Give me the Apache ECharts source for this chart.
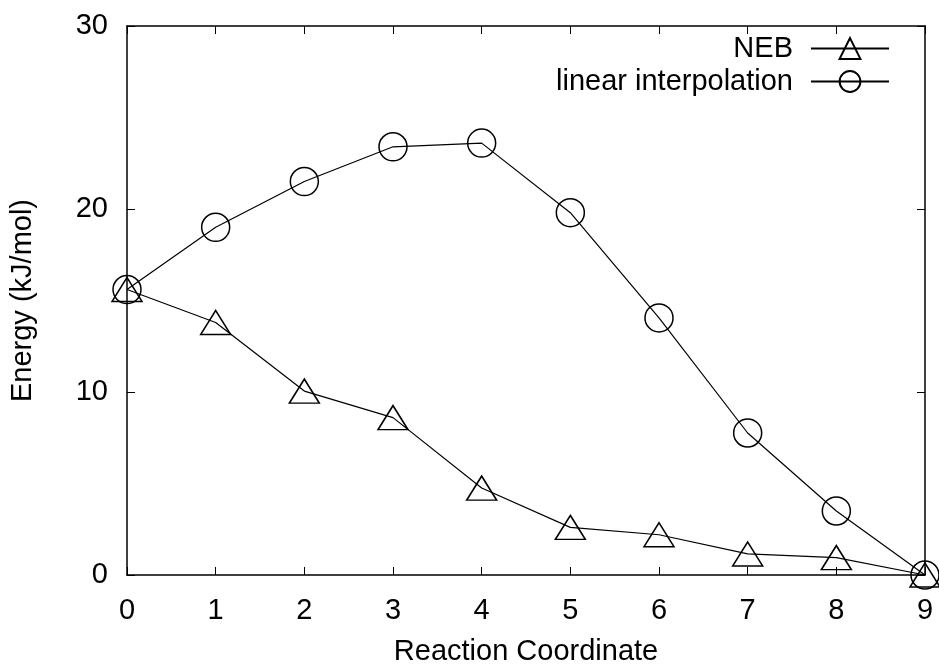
<!DOCTYPE html>
<html>
<head>
<meta charset="utf-8">
<script src="https://cdn.jsdelivr.net/npm/echarts@6/dist/echarts.min.js"></script>
<style>
  html, body { margin: 0; padding: 0; background: #fff; }
  #main { width: 939px; height: 664px; }
</style>
</head>
<body>
<div id="main"></div>
<script>
// values
var coords = [0, 1, 2, 3, 4, 5, 6, 7, 8, 9];
var nebEnergy = [15.6, 13.8, 10.05, 8.6, 4.75, 2.6, 2.2, 1.15, 0.95, 0];
var linearEnergy = [15.6, 19.0, 21.5, 23.4, 23.6, 19.8, 14.05, 7.76, 3.5, 0];

var chartDom = document.getElementById('main');
var myChart = echarts.init(chartDom);
var font = 'Liberation Sans, Arial, Helvetica, sans-serif';

function pairs(ys) {
  return coords.map(function (x, i) { return [x, ys[i]]; });
}

var markerStyle = { color: 'rgba(0,0,0,0)', borderColor: '#000', borderWidth: 1.5 };
var lineStyle = { color: '#000', width: 1.2 };
var frameLine = { show: true, onZero: false, lineStyle: { color: '#000', width: 1.5 } };
var ticks = { show: true, inside: true, length: 8, lineStyle: { color: '#000' } };

var option = {
  animation: false,
  backgroundColor: '#fff',
  textStyle: { fontFamily: font, color: '#000' },
  grid: { left: 127, right: 14, top: 26, bottom: 89, containLabel: false, outerBoundsMode: 'none' },
  legend: {
    orient: 'vertical',
    right: 44,
    top: 29,
    align: 'right',
    itemWidth: 78,
    itemHeight: 26,
    itemGap: 4,
    textStyle: { fontFamily: font, fontSize: 29, color: '#000', padding: [0, 13, 0, 0] },
    data: ['NEB', 'linear interpolation']
  },
  xAxis: [{
    type: 'value', min: 0, max: 9, interval: 1,
    name: 'Reaction Coordinate', nameLocation: 'middle', nameGap: 62,
    nameTextStyle: { fontFamily: font, fontSize: 29, color: '#000' },
    axisLine: frameLine,
    axisTick: ticks,
    axisLabel: { margin: 21, fontSize: 29, color: '#000', fontFamily: font },
    splitLine: { show: false }
  }, {
    type: 'value', min: 0, max: 9, interval: 1, position: 'top',
    axisLine: frameLine,
    axisTick: ticks,
    axisLabel: { show: false },
    splitLine: { show: false }
  }],
  yAxis: [{
    type: 'value', min: 0, max: 30, interval: 10,
    name: 'Energy (kJ/mol)', nameLocation: 'middle', nameGap: 90,
    nameTextStyle: { fontFamily: font, fontSize: 29, color: '#000' },
    axisLine: frameLine,
    axisTick: ticks,
    axisLabel: { margin: 19, fontSize: 29, color: '#000', fontFamily: font },
    splitLine: { show: false }
  }, {
    type: 'value', min: 0, max: 30, interval: 10, position: 'right',
    axisLine: frameLine,
    axisTick: ticks,
    axisLabel: { show: false },
    splitLine: { show: false }
  }],
  series: [
    {
      name: 'NEB', type: 'line',
      data: pairs(nebEnergy),
      symbol: 'triangle', symbolSize: [30, 24],
      itemStyle: markerStyle, lineStyle: lineStyle
    },
    {
      name: 'linear interpolation', type: 'line',
      data: pairs(linearEnergy),
      symbol: 'circle', symbolSize: 28,
      itemStyle: markerStyle, lineStyle: lineStyle
    }
  ]
};

option && myChart.setOption(option);
window.addEventListener('resize', myChart.resize);
</script>
</body>
</html>
